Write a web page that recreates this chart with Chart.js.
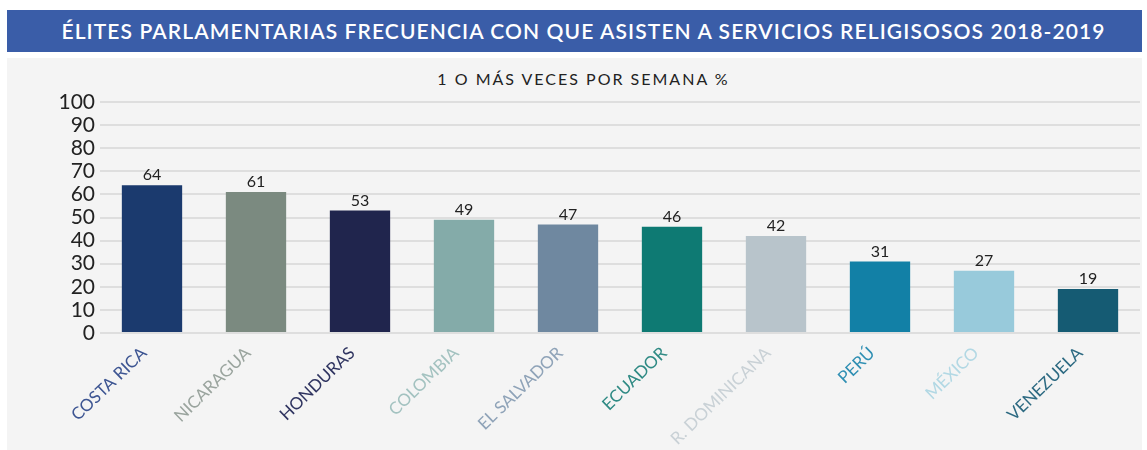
<!DOCTYPE html>
<html>
<head>
<meta charset="utf-8">
<script src="https://cdn.jsdelivr.net/npm/chart.js@4"></script>
<style>
  body { margin: 0; background: #ffffff; font-family: Lato, "Noto Sans", sans-serif; }
  #titleBar {
    position: absolute; left: 7px; top: 10px; width: 1135px; height: 42px;
    background: #3a5da8; color: #fff; font-size: 21px; font-weight: 600;
    text-align: center; line-height: 42px; letter-spacing: 1.1px;
    box-sizing: border-box; padding-left: 18px;
  }
  #panel {
    position: absolute; left: 7px; top: 58px; width: 1135px; height: 392px;
    background: #f4f4f4;
  }
  #subtitle {
    position: absolute; left: 0; top: 11px; width: 100%; text-align: center;
    font-size: 16px; color: #222; letter-spacing: 2px;
    box-sizing: border-box; padding-left: 18px;
  }
  #chartBox { position: absolute; left: 0; top: 0; width: 1135px; height: 392px; }
</style>
</head>
<body>
<div id="titleBar">ÉLITES PARLAMENTARIAS FRECUENCIA CON QUE ASISTEN A SERVICIOS RELIGISOSOS 2018-2019</div>
<div id="panel">
  <div id="subtitle">1 O MÁS VECES POR SEMANA %</div>
  <div id="chartBox"><canvas id="chart" width="1135" height="392"></canvas></div>
</div>
<script>
// categories and values
const countries = ['COSTA RICA', 'NICARAGUA', 'HONDURAS', 'COLOMBIA', 'EL SALVADOR', 'ECUADOR', 'R. DOMINICANA', 'PERÚ', 'MÉXICO', 'VENEZUELA'];
const values = [64, 61, 53, 49, 47, 46, 42, 31, 27, 19];
const barColors = ['#1b3a6e', '#7b8a80', '#20254d', '#84aba9', '#6f88a0', '#0e7a73', '#b8c4cb', '#1280a6', '#98cadb', '#155b73'];
const labelColors = ['#3d5592', '#9aa49e', '#2f3460', '#a3c2c0', '#8fa3b8', '#2f8a84', '#c9d1d6', '#2f8fb3', '#b2d8e4', '#2d6a82'];
const yTicks = [0, 10, 20, 30, 40, 50, 60, 70, 80, 90, 100];

// value labels above each bar
const valueLabels = {
  id: 'valueLabels',
  afterDatasetsDraw(chart) {
    const c = chart.ctx;
    const meta = chart.getDatasetMeta(0);
    c.save();
    c.font = '16px Lato, "Noto Sans", sans-serif';
    c.fillStyle = '#222';
    c.textAlign = 'center';
    c.textBaseline = 'bottom';
    meta.data.forEach((bar, i) => {
      c.fillText(values[i], bar.x, bar.y - 2);
    });
    c.restore();
  }
};

const ctx = document.getElementById('chart').getContext('2d');
new Chart(ctx, {
  type: 'bar',
  data: {
    labels: countries,
    datasets: [{
      data: values,
      backgroundColor: barColors,
      borderWidth: 0,
      barPercentage: 0.58,
      categoryPercentage: 1
    }]
  },
  options: {
    responsive: false,
    animation: false,
    layout: { padding: { top: 44, right: 2, left: 0, bottom: 0 } },
    plugins: { legend: { display: false }, tooltip: { enabled: false } },
    scales: {
      x: {
        grid: { display: false },
        border: { display: false },
        ticks: {
          color: (c) => labelColors[c.index],
          font: { size: 17, family: 'Lato, "Noto Sans", sans-serif' },
          minRotation: 44, maxRotation: 44,
          labelOffset: -8,
          padding: 2
        },
        afterFit: (s) => { s.height = 117; }
      },
      y: {
        min: 0, max: 100,
        afterBuildTicks: (s) => { s.ticks = yTicks.map(v => ({ value: v })); },
        grid: { color: '#dedede', lineWidth: 2, drawTicks: false },
        border: { display: false },
        ticks: {
          color: '#222',
          autoSkip: false,
          font: { size: 21, family: 'Lato, "Noto Sans", sans-serif' },
          padding: 5
        },
        afterFit: (s) => { s.width = 93; }
      }
    }
  },
  plugins: [valueLabels]
});
</script>
</body>
</html>
